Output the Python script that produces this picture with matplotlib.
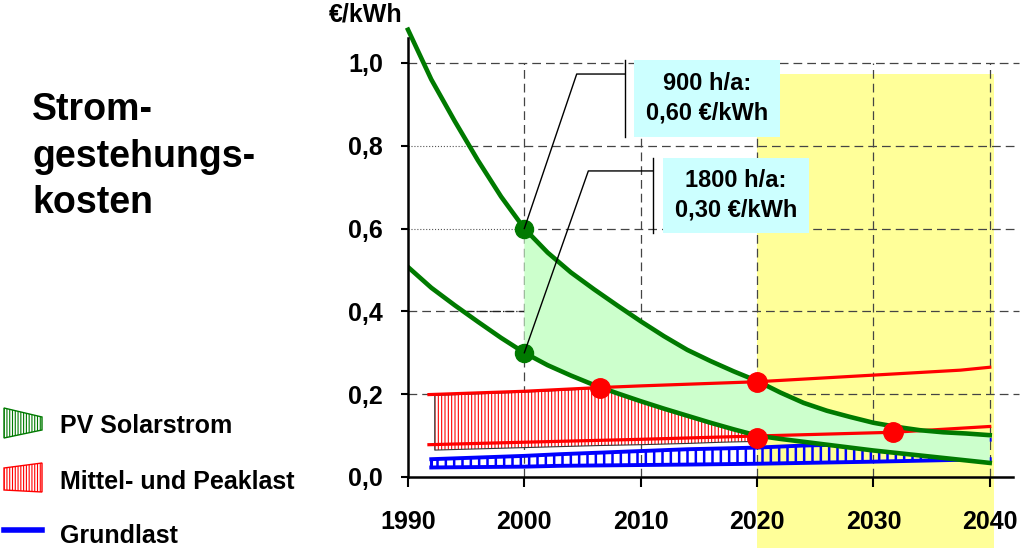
import matplotlib
matplotlib.use("Agg")
import matplotlib.pyplot as plt
from matplotlib.patches import Rectangle, Polygon
import numpy as np

plt.rcParams['font.family'] = ['Liberation Sans', 'DejaVu Sans']
plt.rcParams['font.weight'] = 'bold'

# --- data ---
years = [1990, 1992, 1994, 1996, 1998, 2000, 2002, 2004, 2006, 2008, 2010, 2012, 2014,
         2016, 2018, 2020, 2022, 2024, 2026, 2028, 2030, 2032, 2034, 2036, 2038, 2040]
pv_900 = [1.08, 0.96, 0.86, 0.765, 0.677, 0.60, 0.542, 0.494, 0.453, 0.414, 0.376, 0.34, 0.307,
          0.28, 0.255, 0.232, 0.204, 0.179, 0.16, 0.145, 0.131, 0.121, 0.113, 0.108, 0.105, 0.101]
pv_1800 = [0.507, 0.457, 0.415, 0.375, 0.336, 0.30, 0.27, 0.245, 0.222, 0.202, 0.183, 0.165, 0.148,
           0.131, 0.115, 0.10, 0.092, 0.085, 0.078, 0.071, 0.064, 0.058, 0.052, 0.046, 0.04, 0.034]

peak_years = [1991.8, 2000, 2006.5, 2010, 2020, 2030, 2037.5, 2040]
peak_cost = [0.199, 0.207, 0.216, 0.22, 0.23, 0.246, 0.258, 0.265]
mittel_years = [1991.8, 2000, 2010, 2020, 2031.7, 2040]
mittel_cost = [0.078, 0.084, 0.091, 0.099, 0.108, 0.122]

band_years = [1992.3, 2000, 2006.5, 2010, 2014, 2017, 2020]
band_top = [0.197, 0.205, 0.214, 0.183, 0.148, 0.122, 0.10]
band_bottom = [0.065, 0.071, 0.076, 0.078, 0.081, 0.084, 0.086]

grund_years = [1992, 2000, 2003, 2014, 2020, 2024, 2030, 2040]
grund_lower = [0.023, 0.025, 0.027, 0.030, 0.032, 0.034, 0.037, 0.043]
grund_upper = [0.043, 0.051, 0.055, 0.067, 0.071, 0.076, 0.080, 0.090]

red_dot_x = [2006.5, 2020, 2020, 2031.7]
red_dot_y = [0.216, 0.23, 0.093, 0.108]
green_dot_x = [2000, 2000]
green_dot_y = [0.60, 0.30]

x_ticks = [1990, 2000, 2010, 2020, 2030, 2040]
y_ticks = [0.0, 0.2, 0.4, 0.6, 0.8, 1.0]
y_labels = ['0,0', '0,2', '0,4', '0,6', '0,8', '1,0']

box_texts = ['900 h/a:\n0,60 €/kWh', '1800 h/a:\n0,30 €/kWh']
legend_texts = ['PV Solarstrom', 'Mittel- und Peaklast', 'Grundlast']

GREEN = '#007a00'
fig = plt.figure(figsize=(10.24, 5.48), dpi=100)
ax = fig.add_axes([408 / 1024, 71 / 548, 605 / 1024, 439 / 548])
ax.set_xlim(1990, 2042)
ax.set_ylim(0, 1.06)

# yellow future zone, runs below the axis into the labels
ax.add_patch(Rectangle((2020, -0.175), 20.4, 1.148, facecolor='#ffff99',
                       edgecolor='none', zorder=0, clip_on=False))

# dashed grid
grid_start = [1990, 1990, 2000, 1995.2, 1990]
for yv, xs in zip(y_ticks[1:], grid_start):
    ax.plot([xs, 2042.5], [yv, yv], ls=(0, (7, 4)), color='#444444', lw=0.9,
            zorder=1, clip_on=False)
for xv in x_ticks[1:]:
    ax.plot([xv, xv], [0, 1.0], ls=(0, (7, 4)), color='#444444', lw=0.9, zorder=1)
ax.plot([1990, 2000], [0.6, 0.6], ls=':', color='#555555', lw=0.8, zorder=1)
ax.plot([1990, 1995.2], [0.8, 0.8], ls=':', color='#555555', lw=0.8, zorder=1)
ax.plot([1995, 2000], [0.4, 0.4], ls='-.', color='#222222', lw=0.9, zorder=1)

# Grundlast band
plt.rcParams['hatch.linewidth'] = 1.8
ax.fill_between(grund_years, grund_lower, grund_upper, facecolor='none',
                edgecolor='#0000ff', hatch='||', lw=0, zorder=2)
ax.plot(grund_years, grund_lower, color='#0000ff', lw=2.8, zorder=2.5)
ax.plot(grund_years, grund_upper, color='#0000ff', lw=2.8, zorder=2.5)
ax.plot([grund_years[0]] * 2, [grund_lower[0], grund_upper[0]], color='#0000ff', lw=2.2, zorder=2.5)

# Mittel- und Peaklast band
plt.rcParams['hatch.linewidth'] = 0.8
ax.fill_between(band_years, band_bottom, band_top, facecolor='white',
                edgecolor='#ff0000', hatch='|||||', lw=0, zorder=2)
bx = band_years + band_years[::-1] + [band_years[0]]
by = band_top + band_bottom[::-1] + [band_top[0]]
ax.plot(bx, by, color='#333333', lw=0.8, zorder=2.2)

# PV band
yr = np.array(years)
ax.fill_between(yr, pv_1800, pv_900, where=yr >= 2000, facecolor='#ccffcc',
                edgecolor='none', zorder=3)

ax.plot(peak_years, peak_cost, color='#ff0000', lw=2.3, zorder=4)
ax.plot(mittel_years, mittel_cost, color='#ff0000', lw=2.3, zorder=4)
ax.plot(years, pv_900, color=GREEN, lw=3.3, zorder=4.5, clip_on=False)
ax.plot(years, pv_1800, color=GREEN, lw=3.3, zorder=4.5)

ax.plot(red_dot_x, red_dot_y, 'o', color='#ff0000', ms=14, zorder=5)
ax.plot(green_dot_x, green_dot_y, 'o', color=GREEN, ms=13, zorder=5)

# callouts
ax.plot([2000, 2004.5, 2008.65], [0.60, 0.973, 0.973], color='black', lw=1, zorder=6)
ax.plot([2008.65, 2008.65], [0.821, 1.007], color='black', lw=1, zorder=6)
ax.plot([2000, 2005.5, 2011.05], [0.30, 0.739, 0.739], color='black', lw=1, zorder=6)
ax.plot([2011.05, 2011.05], [0.589, 0.77], color='black', lw=1, zorder=6)
boxes = [(2009.4, 0.821, 12.6, 0.186), (2011.9, 0.589, 12.6, 0.181)]
for (bx0, by0, bw, bh), txt in zip(boxes, box_texts):
    ax.add_patch(Rectangle((bx0, by0), bw, bh, facecolor='#ccffff', edgecolor='none', zorder=6))
    ax.text(bx0 + bw / 2, by0 + bh / 2, txt, ha='center', va='center', fontsize=17,
            fontweight='bold', linespacing=1.35, zorder=7)

# axes styling
for s in ['top', 'right']:
    ax.spines[s].set_visible(False)
for s in ['left', 'bottom']:
    ax.spines[s].set_linewidth(1.8)
    ax.spines[s].set_zorder(6)
ax.set_xticks(x_ticks)
ax.set_xticklabels([str(v) for v in x_ticks], fontsize=18, fontweight='bold')
ax.set_yticks(y_ticks)
ax.set_yticklabels(y_labels, fontsize=18, fontweight='bold')
ax.tick_params(axis='x', direction='out', length=7, width=1.5, pad=17)
ax.tick_params(axis='y', direction='out', length=5, width=1.5, pad=13)

fig.text(403 / 1024, 1 - 22 / 548, '€/kWh', ha='right', va='baseline', fontsize=18,
         fontweight='bold')

# title
for t, yb in zip(['Strom-', 'gestehungs-', 'kosten'], [120, 167, 213]):
    fig.text(32 / 1024, 1 - yb / 548, t, ha='left', va='baseline', fontsize=27,
             fontweight='bold')

# legend drawn by hand
plt.rcParams['hatch.linewidth'] = 0.8
def fig_pt(x, y):
    return (x / 1024, 1 - y / 548)
pv_handle = Polygon([fig_pt(4, 408), fig_pt(42, 417), fig_pt(42, 430), fig_pt(4, 438)],
                    closed=True, facecolor='white', edgecolor=GREEN, hatch='||||||',
                    lw=1, transform=fig.transFigure)
red_handle = Polygon([fig_pt(4, 468), fig_pt(42, 463), fig_pt(42, 492), fig_pt(4, 490)],
                     closed=True, facecolor='white', edgecolor='#ff0000', hatch='||||||',
                     lw=1, transform=fig.transFigure)
fig.patches.extend([pv_handle, red_handle])
fig.lines.append(plt.Line2D([4 / 1024, 42 / 1024], [1 - 530 / 548] * 2, color='#0000ff',
                            lw=4, transform=fig.transFigure))
for t, yb in zip(legend_texts, [433, 489, 543]):
    fig.text(60 / 1024, 1 - yb / 548, t, ha='left', va='baseline', fontsize=18,
             fontweight='bold')

fig.savefig('out.png', dpi=100)
